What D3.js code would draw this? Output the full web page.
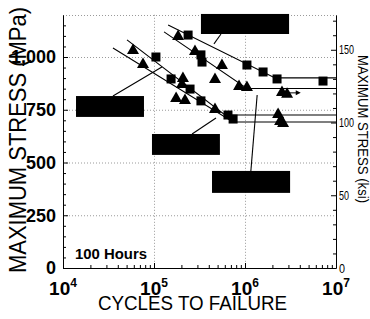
<!DOCTYPE html>
<html><head><meta charset="utf-8">
<script src="https://cdn.jsdelivr.net/npm/d3@7"></script>
<style>
html,body{margin:0;padding:0;background:#fff;}
svg{display:block;font-family:"Liberation Sans",Arial,sans-serif;}
</style></head>
<body><svg id="c" width="370" height="319"></svg>
<script>
// ---- data ----
const xTickValues = [1e4, 1e5, 1e6, 1e7];
const xTickExponents = ["4", "5", "6", "7"];
const yTickValues = [0, 250, 500, 750, 1000];
const ksiTickValues = [0, 50, 100, 150];

const squareCycles = [2.37e5, 3.28e5, 3.37e5, 1.05e6, 1.58e6, 2.25e6, 7.2e6, 1.05e5, 1.54e5, 2.49e5, 3.28e5, 6.5e5, 7.4e5];
const squareStress = [1104, 1010, 976, 962, 929, 896, 886, 1000, 896, 848, 792, 725, 706];

const triangleCycles = [1.84e5, 2.82e5, 5.58e5, 4.68e5, 8.6e5, 1.05e6, 2.55e6, 2.9e6, 5.88e4, 7.57e4, 2.08e5, 2.03e5, 1.75e5, 2.19e5, 4.68e5, 2.31e6, 2.43e6, 2.62e6];
const triangleStress = [1104, 1033, 967, 901, 867, 863, 839, 830, 1038, 972, 905, 877, 811, 801, 758, 735, 702, 692];

const fitACycles = [1.43e5, 2.14e6, 1e7];
const fitAStress = [1152, 901, 901];
const fitBCycles = [1.29e5, 1.05e6, 1e7];
const fitBStress = [1119, 851, 851];
const fitCCycles = [5.05e4, 6.03e5, 1e7];
const fitCStress = [1081, 725, 725];
const fitDCycles = [3.54e4, 7.38e5, 1e7];
const fitDStress = [1043, 692, 692];

const runoutFromCycles = [2.9e6];
const runoutToCycles = [3.8e6];
const runoutStress = [830];

// redacted label boxes (data space) and their leader lines
const boxCycles0 = [1.39e4, 9.5e4, 3.28e5, 4.34e5];
const boxCycles1 = [7.76e4, 5.3e5, 3.05e6, 3.13e6];
const boxStressTop = [815, 635, 1204, 460];
const boxStressBottom = [716, 536, 1109, 356];
const leaderCycles0 = [3.54e4, 4.56e5, 2.62e5, 1.16e6];
const leaderStress0 = [815, 1062, 635, 460];
const leaderCycles1 = [1.22e5, 5.45e5, 4.8e5, 1.36e6];
const leaderStress1 = [953, 1109, 711, 820];

// ---- drawing ----
const svg = d3.select("#c");
const L = 63, R = 336, B = 268, T = 14.8;
const x = d3.scaleLog().domain([1e4, 1e7]).range([L, R]);
const y = d3.scaleLinear().domain([0, 1200]).range([B, T]);
const MPA_PER_KSI = 6.894757;
const yk = d3.scaleLinear().domain([0, 1200 / MPA_PER_KSI]).range([B, T]);

// grid
const grid = svg.append("g").attr("stroke", "#9a9a9a").attr("stroke-width", 1).attr("stroke-dasharray", "1,2");
grid.selectAll(".h").data([250, 500, 750, 1000]).join("line")
  .attr("x1", L).attr("x2", R).attr("y1", d => y(d) + 0.5).attr("y2", d => y(d) + 0.5);
grid.selectAll(".v").data([1e5, 1e6]).join("line")
  .attr("y1", T).attr("y2", B).attr("x1", d => x(d) + 0.5).attr("x2", d => x(d) + 0.5);
grid.append("line").attr("x1", L).attr("x2", R).attr("y1", Math.round(T) + 0.5).attr("y2", Math.round(T) + 0.5);

// left axis
const gl = svg.append("g").attr("transform", `translate(${L},0)`)
  .call(d3.axisLeft(y).tickValues(yTickValues).tickSize(-5).tickSizeOuter(0).tickPadding(7));
gl.selectAll("text").attr("font-size", 18).attr("font-weight", "bold").attr("fill", "#000").attr("font-family", "Liberation Sans, Arial, sans-serif");
svg.append("g").attr("transform", `translate(${L},0)`)
  .call(d3.axisLeft(y).tickValues(d3.range(50, 1200, 50).filter(v => v % 250 !== 0)).tickSize(-3).tickSizeOuter(0).tickFormat(""))
  .select(".domain").remove();

// bottom axis
svg.append("g").attr("transform", `translate(0,${B})`)
  .call(d3.axisBottom(x).tickValues(xTickValues).tickSize(-5).tickSizeOuter(0).tickFormat(""));
const minorX = [];
[1e4, 1e5, 1e6].forEach(d => { for (let k = 2; k <= 9; k++) minorX.push(d * k); });
svg.append("g").attr("transform", `translate(0,${B})`)
  .call(d3.axisBottom(x).tickValues(minorX).tickSize(-3).tickSizeOuter(0).tickFormat(""))
  .select(".domain").remove();
const xl = svg.append("g").selectAll("text").data(xTickValues).join("text")
  .attr("x", d => x(d)).attr("y", 295).attr("text-anchor", "middle")
  .attr("font-size", 19).attr("font-weight", "bold");
xl.append("tspan").text("10");
xl.append("tspan").attr("dy", -8).attr("font-size", 12).text((d, i) => xTickExponents[i]);

// right axis (ksi)
const gr = svg.append("g").attr("transform", `translate(${R},0)`)
  .call(d3.axisRight(yk).tickValues(ksiTickValues).tickSize(-5).tickSizeOuter(0).tickPadding(3));
gr.selectAll("text").attr("font-size", 13).attr("fill", "#000").attr("font-family", "Liberation Sans Narrow, Liberation Sans, Arial, sans-serif")
  .attr("textLength", d => d >= 100 ? 15 : (d >= 10 ? 10 : 6)).attr("lengthAdjust", "spacingAndGlyphs");
svg.append("g").attr("transform", `translate(${R},0)`)
  .call(d3.axisRight(yk).tickValues(d3.range(10, 175, 10).filter(v => v % 50 !== 0)).tickSize(-3).tickSizeOuter(0).tickFormat(""))
  .select(".domain").remove();
svg.selectAll(".domain").attr("stroke", "#000");

// fit lines
const line = d3.line().x(d => x(d[0])).y(d => y(d[1]));
const fits = [[fitACycles, fitAStress], [fitBCycles, fitBStress], [fitCCycles, fitCStress], [fitDCycles, fitDStress]];
svg.append("g").selectAll("path").data(fits).join("path")
  .attr("d", f => line(f[0].map((c, i) => [c, f[1][i]])))
  .attr("fill", "none").attr("stroke", "#000").attr("stroke-width", 1.1);

// runout arrows
const ra = svg.append("g");
runoutStress.forEach((s, i) => {
  const x0 = x(runoutFromCycles[i]), x1 = x(runoutToCycles[i]), yy = y(s);
  ra.append("line").attr("x1", x0).attr("x2", x1).attr("y1", yy).attr("y2", yy).attr("stroke", "#000");
  ra.append("path").attr("d", `M${x1 + 3},${yy}L${x1 - 2},${yy - 2.5}L${x1 - 2},${yy + 2.5}Z`).attr("fill", "#000");
});

// markers
svg.append("g").selectAll("rect").data(squareCycles.map((c, i) => [c, squareStress[i]])).join("rect")
  .attr("x", d => x(d[0]) - 4.5).attr("y", d => y(d[1]) - 4.5).attr("width", 9).attr("height", 9).attr("fill", "#000");
svg.append("g").selectAll("path").data(triangleCycles.map((c, i) => [c, triangleStress[i]])).join("path")
  .attr("transform", d => `translate(${x(d[0])},${y(d[1])})`)
  .attr("d", "M0,-5.5L6,5L-6,5Z").attr("fill", "#000");

// redaction boxes + leaders
svg.append("g").selectAll("line").data(leaderCycles0).join("line")
  .attr("x1", (d, i) => x(d)).attr("y1", (d, i) => y(leaderStress0[i]))
  .attr("x2", (d, i) => x(leaderCycles1[i])).attr("y2", (d, i) => y(leaderStress1[i]))
  .attr("stroke", "#000").attr("stroke-width", 1.1);
svg.append("g").selectAll("rect").data(boxCycles0).join("rect")
  .attr("x", d => x(d)).attr("y", (d, i) => y(boxStressTop[i]))
  .attr("width", (d, i) => x(boxCycles1[i]) - x(d))
  .attr("height", (d, i) => y(boxStressBottom[i]) - y(boxStressTop[i]))
  .attr("fill", "#000");

// texts (narrow, tall glyphs: natural width near target, stretched perpendicular to the baseline)
svg.append("text").attr("transform", "translate(26,140) rotate(-90) scale(1,1.2)").attr("text-anchor", "middle")
  .attr("font-size", 20).attr("font-family", "Liberation Sans Narrow, Liberation Sans, Arial, sans-serif")
  .attr("textLength", 266).attr("lengthAdjust", "spacingAndGlyphs").text("MAXIMUM STRESS (MPa)");
svg.append("text").attr("transform", "translate(192.5,310) scale(1,1.17)").attr("text-anchor", "middle")
  .attr("font-size", 18).attr("font-family", "Liberation Sans Narrow, Liberation Sans, Arial, sans-serif")
  .attr("textLength", 189).attr("lengthAdjust", "spacingAndGlyphs").text("CYCLES TO FAILURE");
svg.append("text").attr("transform", "translate(358,129) rotate(90)").attr("text-anchor", "middle")
  .attr("font-size", 14).attr("font-family", "Liberation Sans Narrow, Liberation Sans, Arial, sans-serif")
  .attr("textLength", 148).attr("lengthAdjust", "spacingAndGlyphs").text("MAXIMUM STRESS (ksi)");
svg.append("text").attr("x", 75).attr("y", 259).attr("font-size", 15).attr("font-weight", "bold")
  .attr("textLength", 72).attr("lengthAdjust", "spacingAndGlyphs").text("100 Hours");
</script></body></html>
